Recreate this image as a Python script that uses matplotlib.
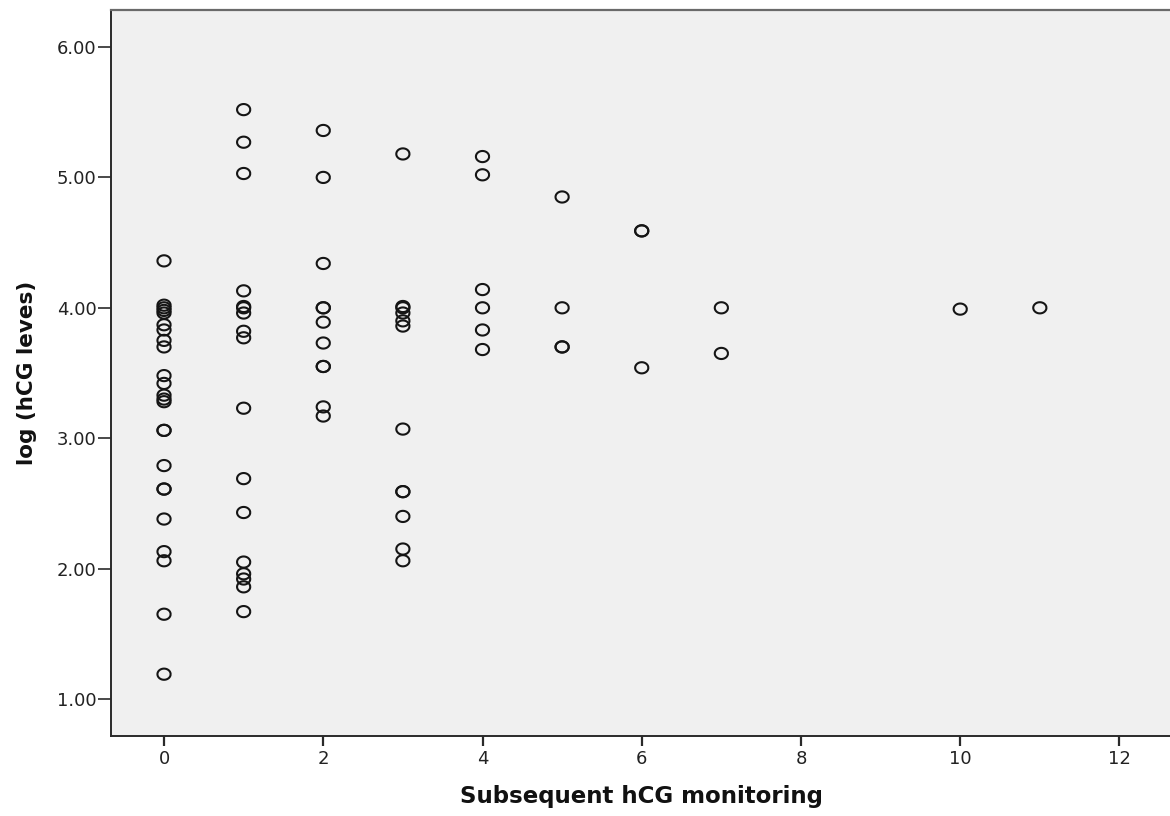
import matplotlib
matplotlib.use("Agg")
import matplotlib.pyplot as plt
import numpy as np
from matplotlib.path import Path

plt.rcParams['font.family'] = ['DejaVu Sans']

# Data
monitoring_0 = [4.36, 4.02, 4.00, 3.98, 3.96, 3.87, 3.83, 3.75, 3.70, 3.48, 3.42,
                3.33, 3.30, 3.28, 3.06, 3.06, 2.79, 2.61, 2.61, 2.38, 2.13, 2.06,
                1.65, 1.19]
monitoring_1 = [5.52, 5.27, 5.03, 4.13, 4.01, 4.00, 3.96, 3.82, 3.77, 3.23, 2.69,
                2.43, 2.05, 1.96, 1.92, 1.86, 1.67]
monitoring_2 = [5.36, 5.00, 4.34, 4.00, 4.00, 3.89, 3.73, 3.55, 3.55, 3.24, 3.17]
monitoring_3 = [5.18, 4.01, 4.00, 3.96, 3.90, 3.86, 3.07, 2.59, 2.59, 2.40, 2.15, 2.06]
monitoring_4 = [5.16, 5.02, 4.14, 4.00, 3.83, 3.68]
monitoring_5 = [4.85, 4.00, 3.70, 3.70]
monitoring_6 = [4.59, 4.59, 3.54]
monitoring_7 = [4.00, 3.65]
monitoring_10 = [3.99]
monitoring_11 = [4.00]

groups = {0: monitoring_0, 1: monitoring_1, 2: monitoring_2, 3: monitoring_3,
          4: monitoring_4, 5: monitoring_5, 6: monitoring_6, 7: monitoring_7,
          10: monitoring_10, 11: monitoring_11}

x_ticks = [0, 2, 4, 6, 8, 10, 12]
y_ticks = [1.0, 2.0, 3.0, 4.0, 5.0, 6.0]

xs, ys = [], []
for k, vals in groups.items():
    xs += [k] * len(vals)
    ys += vals

W, H = 1170, 816
fig = plt.figure(figsize=(W / 100, H / 100), dpi=100)
ax = fig.add_axes([111 / W, (H - 736) / H, (1172 - 111) / W, (736 - 10) / H])
ax.set_facecolor('#f0f0f0')

# elliptical open marker (slightly wider than tall, as in the reference)
t = np.linspace(0, 2 * np.pi, 60)
ell = Path(np.column_stack([1.18 * np.cos(t), np.sin(t)]))
ax.scatter(xs, ys, marker=ell, s=90, facecolors='none', edgecolors='#151515',
           linewidths=1.5, zorder=3)

ax.set_xlim(-0.666, 12.66)
ax.set_ylim(0.716, 6.284)
ax.set_xticks(x_ticks)
ax.set_xticklabels([str(v) for v in x_ticks])
ax.set_yticks(y_ticks)
ax.set_yticklabels([f"{v:.2f}" for v in y_ticks])

for s in ['left', 'bottom']:
    ax.spines[s].set_color('#2a2a2a')
    ax.spines[s].set_linewidth(1.4)
ax.spines['top'].set_color('#6a6a6a')
ax.spines['top'].set_linewidth(1.6)
ax.spines['right'].set_visible(False)

ax.tick_params(axis='y', direction='out', length=9.5, width=1.2, colors='#2a2a2a',
               labelsize=13, pad=1, labelcolor='#222222')
ax.tick_params(axis='x', direction='out', length=7, width=1.6, colors='#2a2a2a',
               labelsize=13, pad=3, labelcolor='#222222')

ax.set_xlabel('Subsequent hCG monitoring', fontsize=16.5, fontweight='bold',
              labelpad=12, color='#111111')
ax.set_ylabel('log (hCG leves)', fontsize=15.5, fontweight='bold',
              labelpad=14, color='#111111')

fig.savefig('out.png', dpi=100)
